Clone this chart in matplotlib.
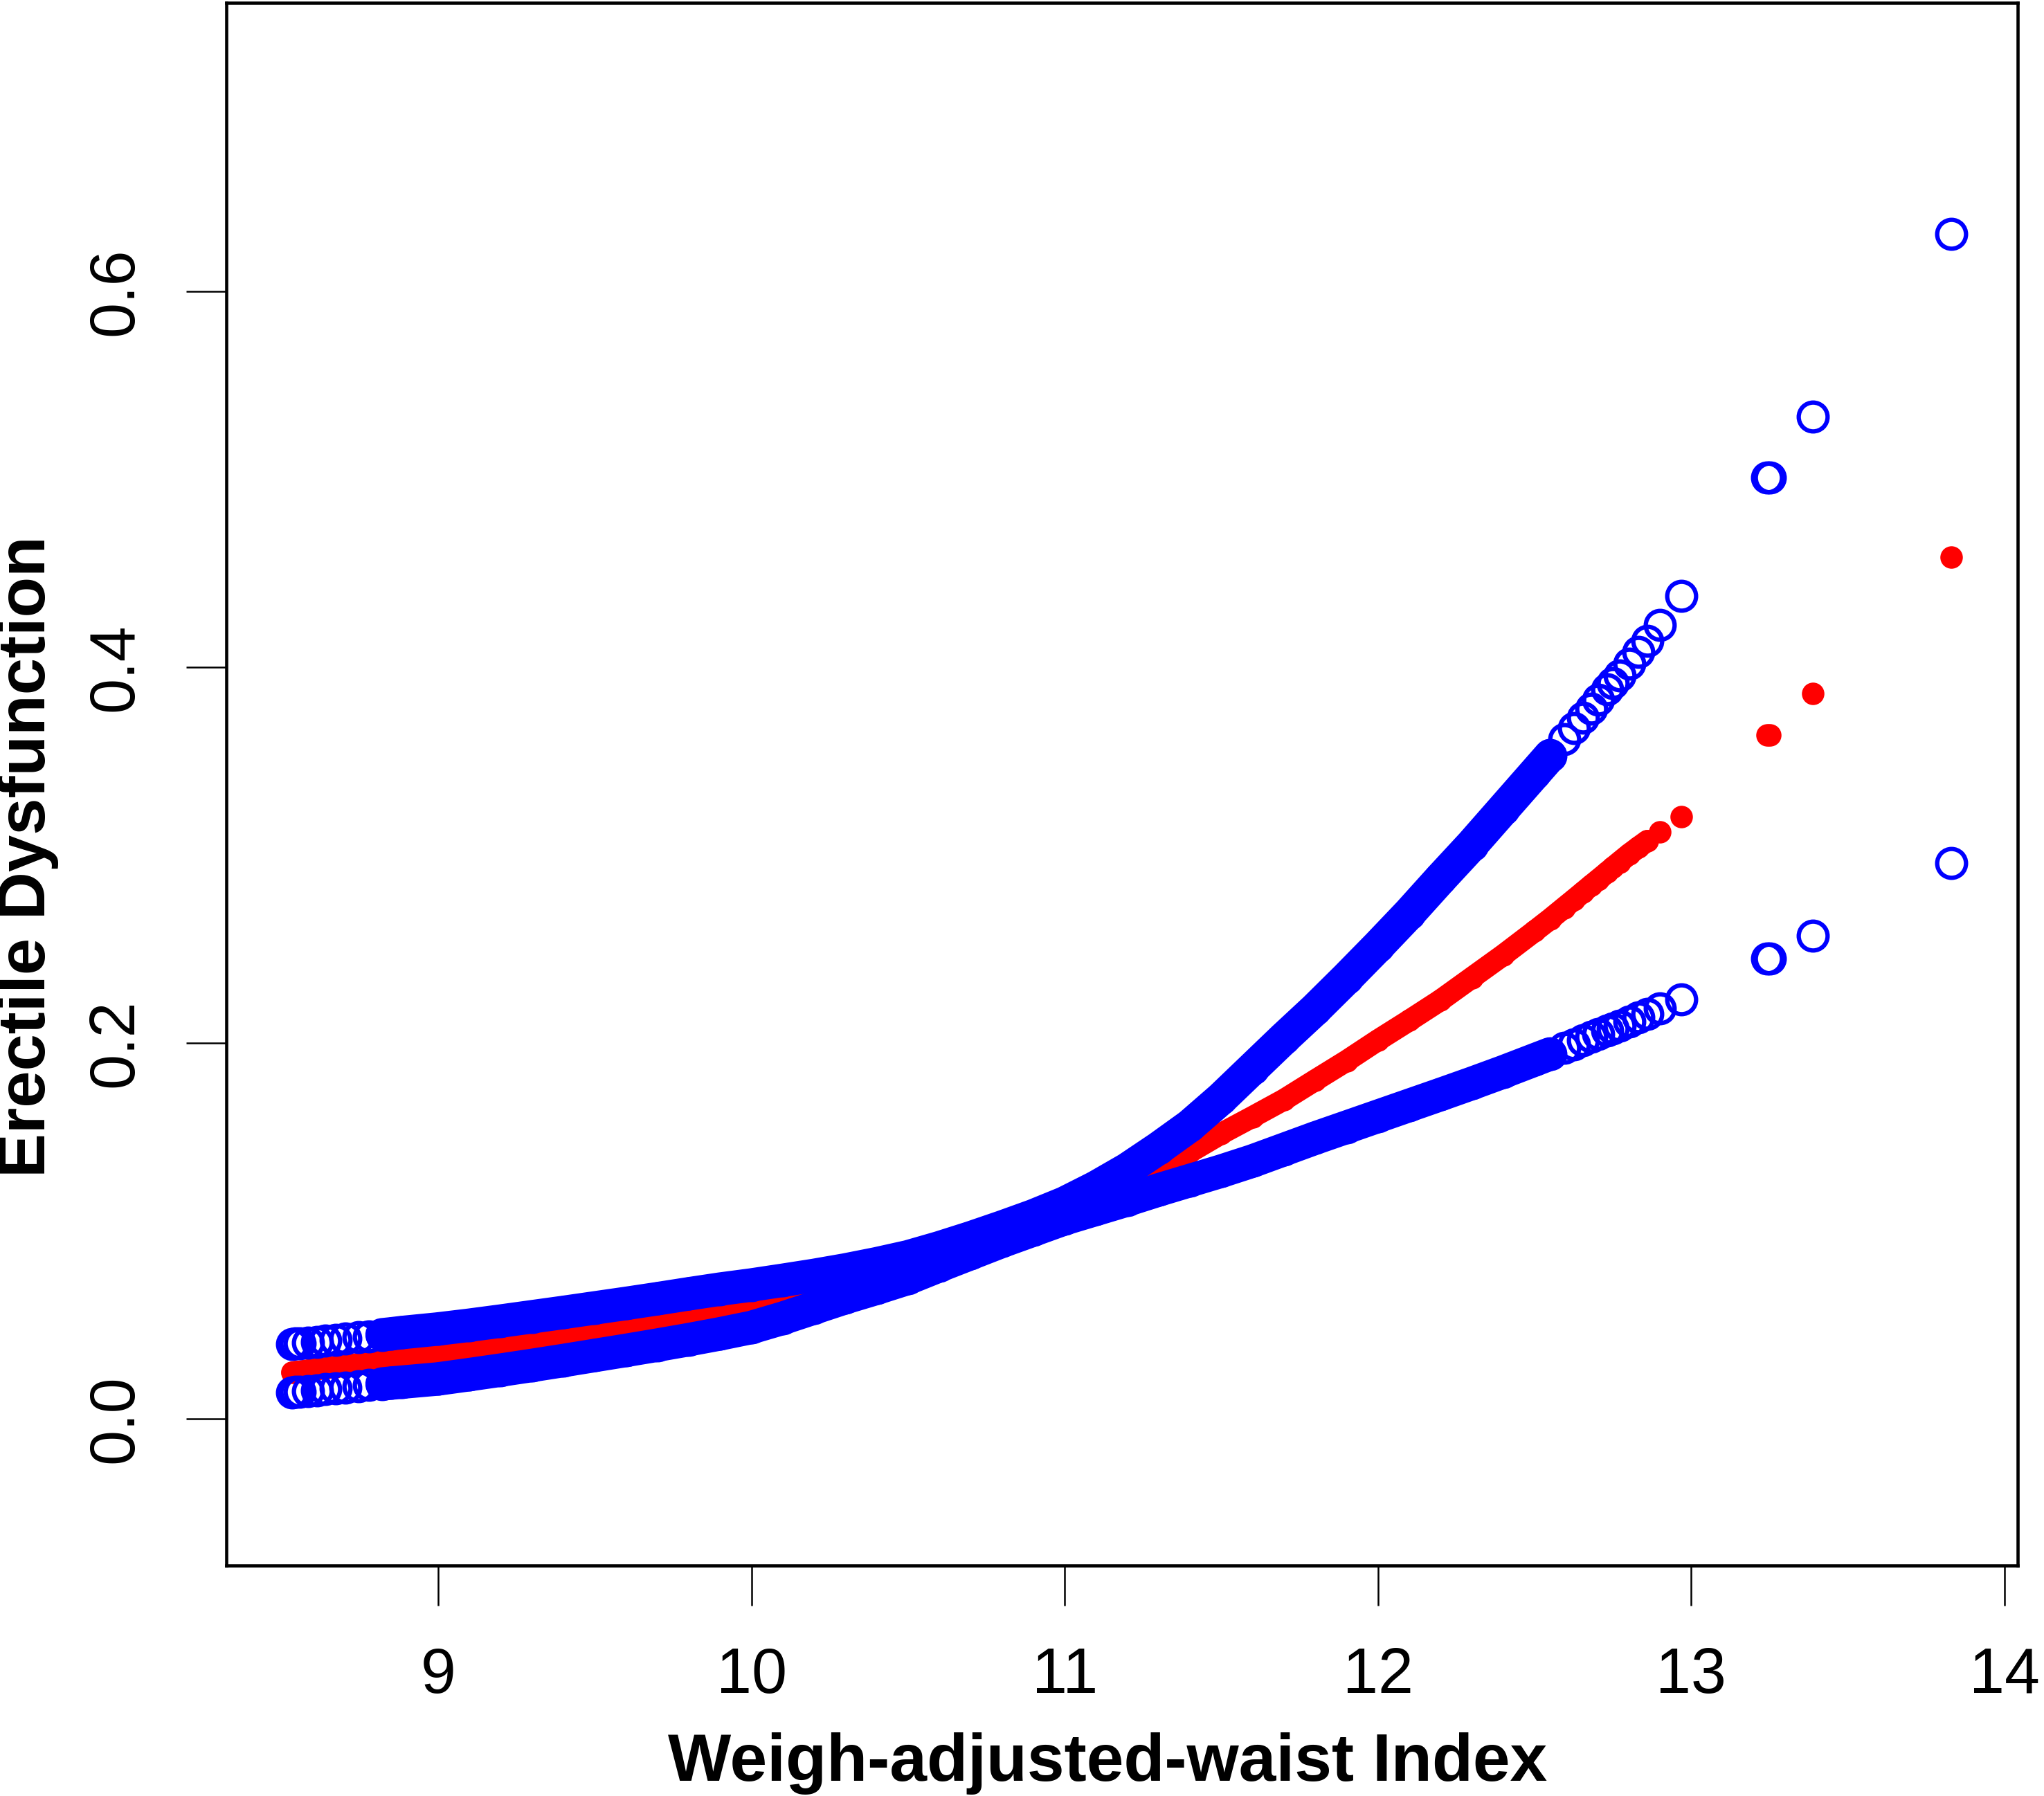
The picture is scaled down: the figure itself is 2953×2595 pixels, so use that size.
import numpy as np
import matplotlib
matplotlib.use("Agg")
import matplotlib.pyplot as plt

plt.rcParams['font.family'] = ['Liberation Sans', 'DejaVu Sans']

# WWI values (left tail, dense part, right tail, outliers)
wwi = [8.534, 8.545, 8.558, 8.585, 8.613, 8.640, 8.673, 8.705, 8.746, 8.780, 8.821, 8.850, 8.885,
       9.0, 9.1, 9.2, 9.3, 9.4, 9.5, 9.6, 9.7, 9.8, 9.9,
       10.0, 10.1, 10.2, 10.3, 10.4, 10.5, 10.6, 10.7, 10.8, 10.9,
       11.0, 11.1, 11.2, 11.3, 11.4, 11.5, 11.6, 11.7, 11.8, 11.9,
       12.0, 12.1, 12.2, 12.3, 12.4, 12.5,
       12.55, 12.594, 12.625, 12.654, 12.68, 12.703, 12.732, 12.75, 12.771, 12.802,
       12.831, 12.860, 12.900, 12.968,
       13.243, 13.252, 13.388, 13.830]

upper = [0.0398, 0.0400, 0.0402, 0.0406, 0.0410, 0.0415, 0.0420, 0.0426, 0.0433, 0.0439, 0.0447, 0.0452, 0.0459,
         0.0478, 0.0498, 0.0520, 0.0543, 0.0566, 0.0590, 0.0614, 0.0639, 0.0665, 0.0690,
         0.0712, 0.0737, 0.0763, 0.0792, 0.0825, 0.0862, 0.0910, 0.0963, 0.1020, 0.1080,
         0.1148, 0.1232, 0.1328, 0.1440, 0.1560, 0.1705, 0.1865, 0.2025, 0.2180, 0.2345,
         0.2515, 0.2690, 0.2875, 0.3055, 0.3245, 0.3435,
         0.3530, 0.3618, 0.3677, 0.3730, 0.3780, 0.3826, 0.3881, 0.3917, 0.3956, 0.4019,
         0.4080, 0.4140, 0.4225, 0.4380,
         0.5010, 0.5010, 0.5333, 0.6306]

estimate = [0.0247, 0.0249, 0.0252, 0.0258, 0.0264, 0.0269, 0.0276, 0.0283, 0.0292, 0.0299, 0.0307, 0.0314, 0.0321,
            0.0342, 0.0362, 0.0383, 0.0405, 0.0428, 0.0452, 0.0478, 0.0505, 0.0533, 0.0563,
            0.0597, 0.0634, 0.0673, 0.0714, 0.0757, 0.0803, 0.0852, 0.0904, 0.0960, 0.1025,
            0.1095, 0.1165, 0.1240, 0.1325, 0.1420, 0.1518, 0.1607, 0.1698, 0.1802, 0.1905,
            0.2015, 0.2120, 0.2228, 0.2348, 0.2468, 0.2595,
            0.2660, 0.2720, 0.2762, 0.2802, 0.2838, 0.2869, 0.2909, 0.2934, 0.2963, 0.3005,
            0.3041, 0.3076, 0.3125, 0.3205,
            0.3640, 0.3640, 0.3860, 0.4586]

lower = [0.0140, 0.0142, 0.0144, 0.0148, 0.0152, 0.0157, 0.0162, 0.0167, 0.0173, 0.0179, 0.0185, 0.0190, 0.0195,
         0.0212, 0.0235, 0.0259, 0.0284, 0.0310, 0.0337, 0.0364, 0.0392, 0.0421, 0.0452,
         0.0486, 0.0535, 0.0590, 0.0645, 0.0695, 0.0748, 0.0815, 0.0880, 0.0945, 0.1005,
         0.1065, 0.1115, 0.1165, 0.1218, 0.1268, 0.1318, 0.1372, 0.1433, 0.1494, 0.1552,
         0.1610, 0.1668, 0.1726, 0.1785, 0.1846, 0.1910,
         0.1942, 0.1973, 0.1994, 0.2014, 0.2032, 0.2047, 0.2066, 0.2079, 0.2093, 0.2113,
         0.2135, 0.2156, 0.2185, 0.2232,
         0.2450, 0.2450, 0.2570, 0.2958]

x = np.array(wwi)
up = np.array(upper)
est = np.array(estimate)
lo = np.array(lower)

fig = plt.figure(figsize=(2953 / 300, 2595 / 300), dpi=300)
ax = fig.add_axes([327 / 2953, 1 - 2262 / 2595, (2915 - 327) / 2953, (2262 - 4) / 2595])

# the data are so dense that the point clouds look like solid bands
blue_band = (x >= 8.82) & (x <= 12.55)
red_band = x <= 12.86

ax.plot(x[red_band], est[red_band], color='red', lw=7.6, solid_capstyle='round')
ax.plot(x, est, 'o', color='red', ms=7.8, mew=0)

for ci in (up, lo):
    ax.plot(x[blue_band], ci[blue_band], color='blue', lw=11.6, solid_capstyle='round')
    ax.plot(x, ci, 'o', mfc='none', mec='blue', ms=10.0, mew=1.5)

ax.set_xlim(8.324, 14.042)
ax.set_ylim(-0.0781, 0.7536)
ax.set_xticks([9, 10, 11, 12, 13, 14])
ax.set_yticks([0.0, 0.2, 0.4, 0.6])
ax.set_yticklabels(['0.0', '0.2', '0.4', '0.6'], rotation=90, va='center')

ax.tick_params(axis='both', length=14, width=0.6, labelsize=22, color='black')
ax.tick_params(axis='x', pad=14)
ax.tick_params(axis='y', pad=14)
for s in ax.spines.values():
    s.set_linewidth(1.1)

fig.text(1600 / 2953, 1 - 2573 / 2595, 'Weigh-adjusted-waist Index',
         ha='center', va='baseline', fontsize=23.2, fontweight='bold')
fig.text(40 / 2953, 1 - 1238 / 2595, 'Erectile Dysfunction', rotation=90,
         ha='center', va='center', fontsize=23, fontweight='bold')

fig.savefig('out.png', dpi=300, facecolor='white')
